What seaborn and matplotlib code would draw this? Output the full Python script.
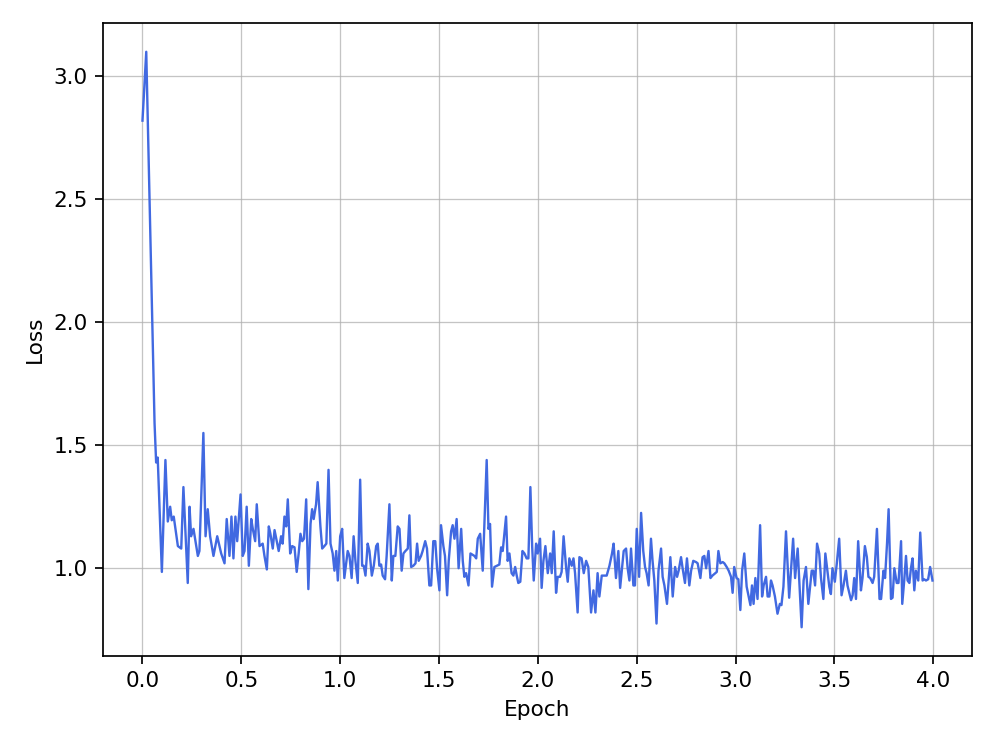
import matplotlib
matplotlib.use("Agg")
import matplotlib.pyplot as plt
import seaborn as sns
import pandas as pd

epochs = [
    0.000, 0.019, 0.061, 0.069, 0.077, 0.098, 0.116, 0.128, 0.140, 0.148,
    0.158, 0.179, 0.196, 0.207, 0.229, 0.238, 0.246, 0.258, 0.280, 0.288,
    0.308, 0.319, 0.330, 0.342, 0.359, 0.378, 0.398, 0.415, 0.426, 0.440,
    0.450, 0.460, 0.470, 0.479, 0.496, 0.507, 0.516, 0.527, 0.538, 0.550,
    0.558, 0.570, 0.578, 0.592, 0.608, 0.617, 0.629, 0.639, 0.647, 0.659,
    0.668, 0.679, 0.689, 0.701, 0.709, 0.718, 0.727, 0.735, 0.747, 0.757,
    0.769, 0.780, 0.790, 0.799, 0.808, 0.817, 0.828, 0.839, 0.850, 0.858,
    0.866, 0.878, 0.886, 0.900, 0.909, 0.920, 0.930, 0.941, 0.951, 0.962,
    0.971, 0.980, 0.988, 1.000, 1.010, 1.021, 1.038, 1.047, 1.058, 1.068,
    1.077, 1.089, 1.101, 1.111, 1.119, 1.128, 1.139, 1.148, 1.160, 1.170,
    1.182, 1.190, 1.198, 1.207, 1.215, 1.227, 1.235, 1.249, 1.261, 1.269,
    1.279, 1.291, 1.300, 1.311, 1.320, 1.330, 1.342, 1.350, 1.359, 1.370,
    1.381, 1.389, 1.397, 1.409, 1.417, 1.430, 1.439, 1.451, 1.460, 1.471,
    1.481, 1.490, 1.502, 1.510, 1.522, 1.530, 1.541, 1.549, 1.561, 1.569,
    1.578, 1.589, 1.599, 1.612, 1.620, 1.628, 1.637, 1.649, 1.659, 1.669,
    1.679, 1.688, 1.696, 1.708, 1.721, 1.741, 1.750, 1.758, 1.768, 1.780,
    1.792, 1.805, 1.814, 1.822, 1.839, 1.847, 1.856, 1.867, 1.876, 1.885,
    1.893, 1.901, 1.911, 1.922, 1.932, 1.943, 1.952, 1.962, 1.971, 1.979,
    1.991, 1.999, 2.011, 2.019, 2.028, 2.038, 2.050, 2.062, 2.070, 2.080,
    2.092, 2.100, 2.112, 2.120, 2.130, 2.143, 2.151, 2.159, 2.171, 2.180,
    2.188, 2.201, 2.210, 2.221, 2.232, 2.244, 2.255, 2.269, 2.281, 2.291,
    2.302, 2.311, 2.323, 2.336, 2.348, 2.362, 2.375, 2.383, 2.395, 2.407,
    2.416, 2.434, 2.446, 2.454, 2.463, 2.471, 2.483, 2.491, 2.500, 2.512,
    2.522, 2.533, 2.542, 2.550, 2.560, 2.572, 2.580, 2.589, 2.600, 2.610,
    2.623, 2.631, 2.640, 2.653, 2.661, 2.670, 2.682, 2.694, 2.704, 2.712,
    2.724, 2.732, 2.744, 2.754, 2.766, 2.775, 2.786, 2.800, 2.808, 2.822,
    2.833, 2.842, 2.851, 2.863, 2.873, 2.883, 2.898, 2.905, 2.913, 2.923,
    2.935, 2.943, 2.955, 2.965, 2.977, 2.985, 2.993, 3.005, 3.014, 3.024,
    3.033, 3.044, 3.056, 3.066, 3.075, 3.083, 3.091, 3.100, 3.111, 3.124,
    3.134, 3.142, 3.154, 3.162, 3.171, 3.179, 3.187, 3.199, 3.212, 3.224,
    3.232, 3.242, 3.255, 3.271, 3.280, 3.291, 3.301, 3.314, 3.322, 3.334,
    3.344, 3.356, 3.368, 3.385, 3.393, 3.402, 3.412, 3.423, 3.432, 3.444,
    3.454, 3.462, 3.474, 3.482, 3.490, 3.502, 3.512, 3.524, 3.536, 3.546,
    3.558, 3.566, 3.584, 3.592, 3.600, 3.609, 3.620, 3.634, 3.642, 3.654,
    3.664, 3.672, 3.681, 3.693, 3.701, 3.715, 3.728, 3.736, 3.748, 3.756,
    3.766, 3.774, 3.786, 3.794, 3.803, 3.815, 3.824, 3.837, 3.843, 3.853,
    3.862, 3.870, 3.879, 3.887, 3.895, 3.904, 3.912, 3.924, 3.934, 3.946,
    3.954, 3.963, 3.974, 3.984, 3.996,
]

loss = [
    2.82, 3.10, 1.59, 1.43, 1.45, 0.985, 1.44, 1.19, 1.25, 1.195,
    1.21, 1.09, 1.08, 1.33, 0.94, 1.25, 1.13, 1.16, 1.05, 1.07,
    1.55, 1.13, 1.24, 1.13, 1.05, 1.13, 1.06, 1.02, 1.20, 1.05,
    1.21, 1.04, 1.21, 1.11, 1.30, 1.05, 1.07, 1.25, 1.01, 1.20,
    1.16, 1.11, 1.26, 1.09, 1.10, 1.05, 0.995, 1.17, 1.14, 1.08,
    1.155, 1.11, 1.07, 1.13, 1.10, 1.21, 1.17, 1.28, 1.06, 1.09,
    1.085, 0.985, 1.06, 1.14, 1.11, 1.12, 1.28, 0.915, 1.18, 1.24,
    1.20, 1.26, 1.35, 1.17, 1.08, 1.09, 1.10, 1.40, 1.10, 1.06,
    0.99, 1.07, 0.95, 1.13, 1.16, 0.96, 1.07, 1.05, 0.96, 1.13,
    1.03, 0.94, 1.36, 1.01, 1.01, 0.97, 1.10, 1.07, 0.97, 1.01,
    1.09, 1.10, 1.01, 1.015, 0.97, 0.955, 1.05, 1.26, 0.95, 1.05,
    1.05, 1.17, 1.16, 0.99, 1.06, 1.07, 1.08, 1.215, 1.005, 1.01,
    1.02, 1.10, 1.03, 1.05, 1.07, 1.11, 1.08, 0.93, 0.93, 1.11,
    1.11, 1.00, 0.91, 1.175, 1.09, 1.05, 0.89, 1.03, 1.15, 1.175,
    1.12, 1.20, 1.00, 1.16, 1.03, 0.965, 0.98, 0.93, 1.06, 1.055,
    1.05, 1.04, 1.12, 1.14, 0.99, 1.44, 1.16, 1.18, 0.925, 1.005,
    1.01, 1.015, 1.085, 1.07, 1.21, 1.03, 1.06, 0.98, 0.97, 1.005,
    0.97, 0.94, 0.945, 1.07, 1.06, 1.04, 1.04, 1.33, 1.09, 0.95,
    1.10, 1.06, 1.12, 0.92, 1.03, 1.09, 0.98, 1.06, 0.98, 1.15,
    0.90, 0.965, 0.965, 0.985, 1.13, 1.00, 0.945, 1.04, 1.01, 1.04,
    0.98, 0.82, 1.045, 1.04, 0.98, 1.03, 1.005, 0.82, 0.91, 0.82,
    0.98, 0.885, 0.97, 0.97, 0.97, 1.01, 1.06, 1.10, 0.96, 1.07,
    0.92, 1.07, 1.08, 1.00, 0.95, 1.08, 0.93, 0.93, 1.16, 0.965,
    1.225, 1.07, 1.005, 0.98, 0.93, 1.12, 1.03, 0.95, 0.775, 0.99,
    1.08, 0.965, 0.93, 0.855, 0.945, 1.045, 0.885, 1.005, 0.965, 0.99,
    1.045, 1.00, 0.94, 1.04, 0.93, 0.99, 1.03, 1.025, 1.02, 0.96,
    1.045, 1.05, 1.00, 1.07, 0.96, 0.97, 0.98, 0.985, 1.07, 1.02,
    1.025, 1.02, 1.005, 0.99, 0.965, 0.90, 1.005, 0.96, 0.955, 0.83,
    0.99, 1.06, 0.925, 0.885, 0.85, 0.93, 0.855, 0.96, 0.875, 1.175,
    0.885, 0.93, 0.965, 0.885, 0.885, 0.95, 0.93, 0.885, 0.815, 0.855,
    0.85, 0.925, 1.15, 0.88, 0.99, 1.12, 0.96, 1.08, 0.95, 0.76,
    0.95, 1.005, 0.855, 0.99, 0.99, 0.93, 1.10, 1.06, 0.96, 0.875,
    1.06, 1.005, 0.925, 0.895, 1.00, 0.945, 1.02, 1.12, 0.89, 0.93,
    0.99, 0.93, 0.87, 0.89, 0.96, 0.875, 1.11, 0.91, 0.96, 1.09,
    1.045, 0.965, 0.96, 0.94, 0.965, 1.16, 0.875, 0.875, 0.99, 0.96,
    1.10, 1.24, 0.875, 0.88, 1.00, 0.94, 0.94, 1.11, 0.855, 0.95,
    1.05, 0.95, 0.94, 1.00, 1.04, 0.91, 0.99, 0.95, 1.145, 0.95,
    0.955, 0.95, 0.955, 1.005, 0.95,
]

df = pd.DataFrame({"Epoch": epochs, "Loss": loss})

fig, ax = plt.subplots(figsize=(6.4, 4.8), dpi=155.625)
sns.lineplot(data=df, x="Epoch", y="Loss", ax=ax, color="royalblue",
             linewidth=1.1, sort=False)
ax.grid(True, color="#b0b0b0", alpha=0.75, linewidth=0.6)
ax.set_xlabel("Epoch")
ax.set_ylabel("Loss")
fig.subplots_adjust(left=0.1034, right=0.9759, top=0.9692, bottom=0.1218)
fig.savefig("out.png", dpi=155.625)
